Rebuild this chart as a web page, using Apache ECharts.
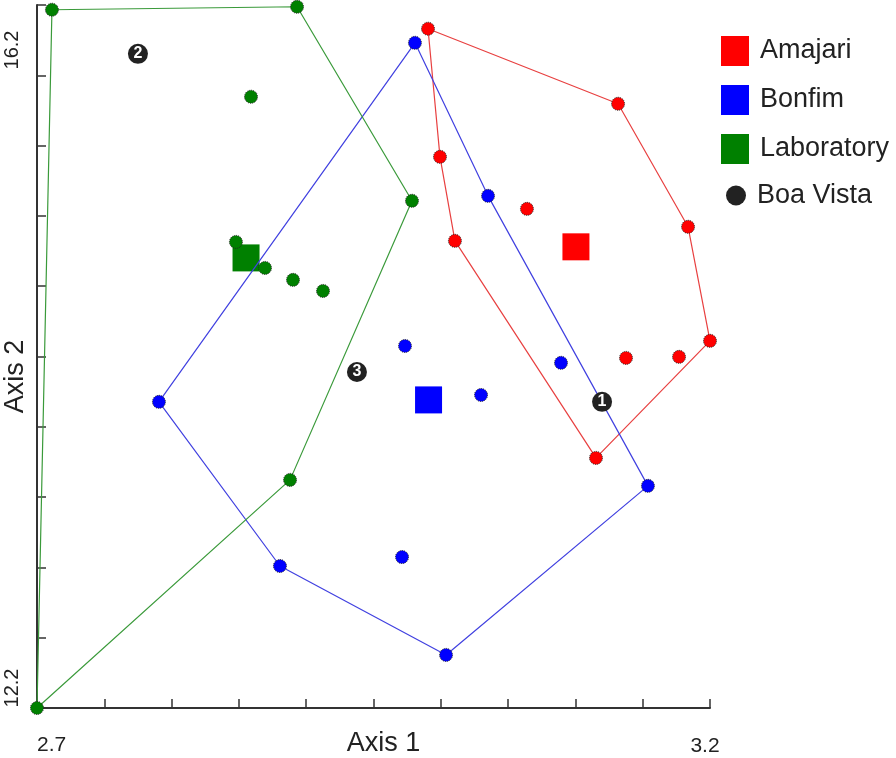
<!DOCTYPE html>
<html>
<head>
<meta charset="utf-8">
<script src="https://cdn.jsdelivr.net/npm/echarts@6/dist/echarts.min.js"></script>
<style>
html,body{margin:0;padding:0;background:#fff;}
#chart{width:896px;height:758px;}
</style>
</head>
<body>
<div id="chart"></div>
<script>
// ---- data ----
const groupNames = ['Amajari', 'Bonfim', 'Laboratory'];
const groupColors = ['#ff0000', '#0000ff', '#008000'];
const lineColors = ['#e84040', '#4040e0', '#3a9a3a'];

const amajariX = [2.9905, 3.1317, 2.9994, 3.0640, 3.0105, 3.1837, 3.2000, 3.1770, 3.1376, 3.1153];
const amajariY = [16.065, 15.638, 15.336, 15.040, 14.858, 14.938, 14.289, 14.198, 14.192, 13.623];
const amajariHull = [0, 1, 5, 6, 9, 4, 2, 0];
const amajariCentroid = [3.1004, 14.824];

const bonfimX = [2.9808, 3.0351, 2.9734, 3.0893, 3.0299, 2.7906, 3.1539, 2.9712, 2.8805, 3.0039];
const bonfimY = [15.985, 15.114, 14.260, 14.164, 13.981, 13.942, 13.464, 13.059, 13.008, 12.502];
const bonfimHull = [0, 1, 6, 9, 8, 5, 0];
const bonfimCentroid = [2.9909, 13.953];

const labX = [2.7111, 2.8932, 2.8590, 2.9786, 2.8478, 2.8694, 2.8902, 2.9125, 2.8880, 2.7000];
const labY = [16.173, 16.190, 15.678, 15.086, 14.852, 14.704, 14.636, 14.573, 13.498, 12.200];
const labHull = [9, 8, 3, 1, 0, 9];
const labCentroid = [2.8553, 14.761];

const boaX = [3.1198, 2.7750, 2.9377];
const boaY = [13.942, 15.922, 14.112];
const boaLabels = ['1', '2', '3'];

const xTickLabels = ['2.7', '3.2'];
const yTickLabels = ['12.2', '16.2'];
const xAxisName = 'Axis 1';
const yAxisName = 'Axis 2';

// ---- build ----
const groups = [
  {x: amajariX, y: amajariY, hull: amajariHull, c: amajariCentroid},
  {x: bonfimX, y: bonfimY, hull: bonfimHull, c: bonfimCentroid},
  {x: labX, y: labY, hull: labHull, c: labCentroid}
];

const FONT = '"Liberation Sans", Arial, sans-serif';
const series = [];
groups.forEach((g, i) => {
  series.push({
    name: groupNames[i], type: 'scatter', symbol: 'rect', symbolSize: 27, z: 2,
    itemStyle: {color: groupColors[i], opacity: 1},
    data: [g.c], clip: false, silent: true
  });
});
groups.forEach((g, i) => {
  series.push({
    name: groupNames[i], type: 'line', symbol: 'none', z: 3,
    lineStyle: {color: lineColors[i], width: 1.2},
    itemStyle: {color: groupColors[i]},
    data: g.hull.map(k => [g.x[k], g.y[k]]), silent: true, clip: false
  });
});
groups.forEach((g, i) => {
  series.push({
    name: groupNames[i], type: 'scatter', symbol: 'circle', symbolSize: 13, z: 4,
    itemStyle: {color: groupColors[i], borderColor: '#222', borderWidth: 1, borderType: 'dotted', opacity: 1},
    data: g.x.map((v, k) => [v, g.y[k]]), clip: false, silent: true
  });
});
series.push({
  name: 'Boa Vista', type: 'scatter', symbol: 'circle', symbolSize: 20, z: 5,
  itemStyle: {color: '#222', opacity: 1},
  label: {show: true, position: 'inside', color: '#fff', fontWeight: 'bold', fontSize: 16, fontFamily: FONT,
    formatter: p => boaLabels[p.dataIndex]},
  data: boaX.map((v, k) => [v, boaY[k]]), clip: false, silent: true
});

const axisCommon = {
  type: 'value',
  axisLine: {show: true, onZero: false, lineStyle: {color: '#333', width: 2}},
  axisTick: {show: true, inside: true, length: 9, lineStyle: {color: '#333', width: 1.5}},
  axisLabel: {show: false},
  splitLine: {show: false},
  nameLocation: 'middle'
};

const option = {
  animation: false,
  backgroundColor: '#fff',
  grid: {left: 37, right: 186, top: 5, bottom: 50, containLabel: false, outerBoundsMode: 'none'},
  xAxis: Object.assign({}, axisCommon, {min: 2.7, max: 3.2, interval: 0.05, name: xAxisName, nameGap: 22,
    nameTextStyle: {fontFamily: FONT, fontSize: 27, color: '#222', padding: [0, 0, 0, 20]}}),
  yAxis: Object.assign({}, axisCommon, {min: 12.2, max: 16.2, interval: 0.4, name: yAxisName, nameGap: 8,
    nameTextStyle: {fontFamily: FONT, fontSize: 27, color: '#222', padding: [0, 40, 0, 0]}}),
  legend: [
    {data: groupNames, orient: 'vertical', left: 721, top: 36, icon: 'rect', padding: 0,
     itemWidth: 28, itemHeight: 30, itemGap: 19, selectedMode: false,
     itemStyle: {borderWidth: 0},
     textStyle: {fontFamily: FONT, fontSize: 27, color: '#222', padding: [0, 0, 0, 6]}},
    {data: ['Boa Vista'], orient: 'vertical', left: 726, top: 182, icon: 'circle', padding: 0,
     itemWidth: 20, itemHeight: 20, selectedMode: false,
     itemStyle: {borderWidth: 0},
     textStyle: {fontFamily: FONT, fontSize: 27, color: '#222', padding: [0, 0, 0, 6]}}
  ],
  graphic: [
    {type: 'text', x: 37, y: 745, style: {text: xTickLabels[0], font: '21px ' + FONT, fill: '#222', align: 'left', verticalAlign: 'middle'}},
    {type: 'text', x: 705, y: 746, style: {text: xTickLabels[1], font: '21px ' + FONT, fill: '#222', align: 'center', verticalAlign: 'middle'}},
    {type: 'text', x: 12, y: 688, rotation: Math.PI / 2, style: {text: yTickLabels[0], font: '20px ' + FONT, fill: '#222', align: 'center', verticalAlign: 'middle'}},
    {type: 'text', x: 12, y: 50, rotation: Math.PI / 2, style: {text: yTickLabels[1], font: '20px ' + FONT, fill: '#222', align: 'center', verticalAlign: 'middle'}}
  ],
  series: series
};

const chart = echarts.init(document.getElementById('chart'), null, {renderer: 'canvas'});
chart.setOption(option);
</script>
</body>
</html>
